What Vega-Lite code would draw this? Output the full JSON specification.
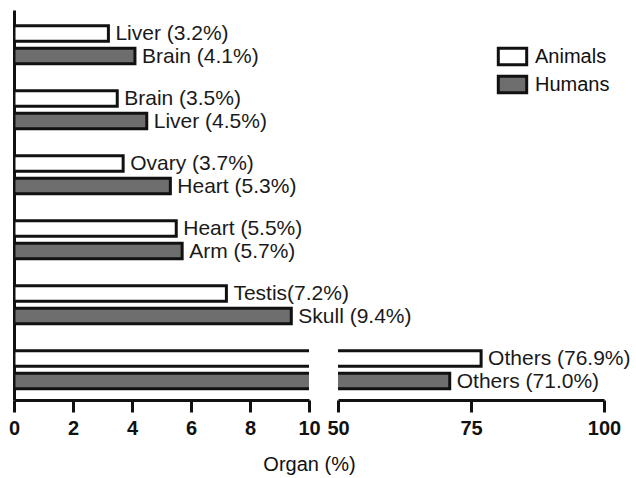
{
  "$schema": "https://vega.github.io/schema/vega-lite/v6.json",
  "padding": {"left": 8, "top": 10, "right": 0, "bottom": 0},
  "background": "white",
  "spacing": 29,
  "bounds": "flush",
  "config": {
    "font": "Liberation Sans",
    "view": {"stroke": null},
    "axis": {
      "domainWidth": 3, "domainColor": "#111", "tickWidth": 3, "tickColor": "#111", "tickSize": 12,
      "labelFontSize": 20, "labelFontWeight": "bold", "labelColor": "#111", "labelPadding": 6,
      "labelFlush": false, "grid": false, "title": null
    }
  },
  "datasets": {
    "organs": [
      {"group": 1, "series": "Animals", "organ": "Liver", "value": 3.2, "label": "Liver (3.2%)"},
      {"group": 1, "series": "Humans", "organ": "Brain", "value": 4.1, "label": "Brain (4.1%)"},
      {"group": 2, "series": "Animals", "organ": "Brain", "value": 3.5, "label": "Brain (3.5%)"},
      {"group": 2, "series": "Humans", "organ": "Liver", "value": 4.5, "label": "Liver (4.5%)"},
      {"group": 3, "series": "Animals", "organ": "Ovary", "value": 3.7, "label": "Ovary (3.7%)"},
      {"group": 3, "series": "Humans", "organ": "Heart", "value": 5.3, "label": "Heart (5.3%)"},
      {"group": 4, "series": "Animals", "organ": "Heart", "value": 5.5, "label": "Heart (5.5%)"},
      {"group": 4, "series": "Humans", "organ": "Arm", "value": 5.7, "label": "Arm (5.7%)"},
      {"group": 5, "series": "Animals", "organ": "Testis", "value": 7.2, "label": "Testis(7.2%)"},
      {"group": 5, "series": "Humans", "organ": "Skull", "value": 9.4, "label": "Skull (9.4%)"},
      {"group": 6, "series": "Animals", "organ": "Others", "value": 76.9, "label": "Others (76.9%)"},
      {"group": 6, "series": "Humans", "organ": "Others", "value": 71.0, "label": "Others (71.0%)"}
    ]
  },
  "title": {"text": "Organ (%)", "orient": "bottom", "anchor": "middle", "fontSize": 20, "fontWeight": "normal", "offset": 17, "dx": -10, "color": "#111"},
  "hconcat": [
    {
      "width": 295, "height": 390,
      "data": {"name": "organs"},
      "encoding": {
        "y": {"field": "group", "type": "ordinal", "scale": {"domain": [1,2,3,4,5,6], "paddingInner": 0.415, "paddingOuter": 0.2075, "align": 0.58}, "axis": {"labels": false, "ticks": false, "title": null, "domainWidth": 3, "domainColor": "#111"}},
        "yOffset": {"field": "series", "type": "nominal", "scale": {"domain": ["Animals", "Humans"], "paddingInner": 0.31, "paddingOuter": 0}},
        "x": {"field": "value", "type": "quantitative", "scale": {"domain": [0, 10], "nice": false, "zero": true}, "axis": {"values": [0,2,4,6,8,10]}}
      },
      "layer": [
        {
          "mark": {"type": "bar", "clip": true, "stroke": "#111", "strokeWidth": 3},
          "encoding": {
            "fill": {"field": "series", "type": "nominal", "scale": {"domain": ["Animals", "Humans"], "range": ["#ffffff", "#6e6e6e"]},
              "legend": {"orient": "none", "legendX": 485, "legendY": 33, "title": null, "padding": 0,
                "symbolType": "M-1.2,-0.7H1.2V0.7H-1.2Z", "symbolSize": 560, "symbolStrokeColor": "#111", "symbolStrokeWidth": 3,
                "symbolOpacity": 1, "labelFontSize": 20, "labelColor": "#111", "labelOffset": 9, "rowPadding": -3}}
          }
        },
        {
          "transform": [{"filter": "datum.value < 10"}],
          "mark": {"type": "text", "align": "left", "baseline": "middle", "dx": 7, "dy": 1, "fontSize": 21, "color": "#1a1a1a"},
          "encoding": {"text": {"field": "label"}}
        }
      ]
    },
    {
      "width": 266, "height": 390,
      "data": {"name": "organs"},
      "transform": [{"filter": "datum.value > 10"}],
      "encoding": {
        "y": {"field": "group", "type": "ordinal", "scale": {"domain": [1,2,3,4,5,6], "paddingInner": 0.415, "paddingOuter": 0.2075, "align": 0.58}, "axis": null},
        "yOffset": {"field": "series", "type": "nominal", "scale": {"domain": ["Animals", "Humans"], "paddingInner": 0.31, "paddingOuter": 0}},
        "x": {"field": "value", "type": "quantitative", "scale": {"domain": [50, 100], "nice": false, "zero": false}, "axis": {"values": [50, 75, 100]}}
      },
      "layer": [
        {
          "mark": {"type": "bar", "clip": true, "stroke": "#111", "strokeWidth": 3},
          "encoding": {
            "x2": {"datum": 0},
            "fill": {"field": "series", "type": "nominal"}
          }
        },
        {
          "mark": {"type": "text", "align": "left", "baseline": "middle", "dx": 7, "dy": 1, "fontSize": 21, "color": "#1a1a1a"},
          "encoding": {"text": {"field": "label"}}
        }
      ]
    }
  ]
}
